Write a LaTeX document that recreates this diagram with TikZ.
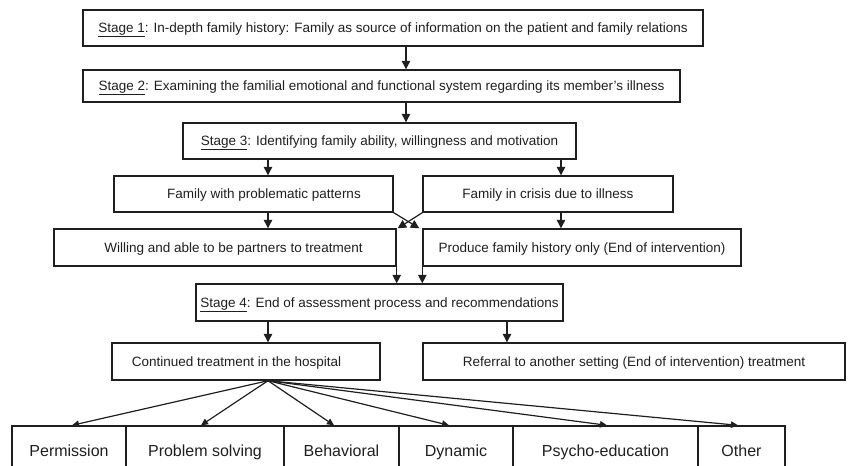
\documentclass[tikz,border=0pt]{standalone}
\usepackage{fontspec}
\setmainfont{Liberation Sans}
\usetikzlibrary{arrows.meta,calc}
\definecolor{ink}{gray}{0.12}
\newcommand\stul[1]{\setbox0\hbox{#1}\rlap{\rule[-4.2pt]{\wd0}{0.9pt}}\box0}
\begin{document}
\begin{tikzpicture}[x=1pt,y=-1pt,
  box/.style={draw=ink, line width=1.4pt, rectangle, inner sep=0pt, text=ink,
    font=\fontsize{13.5}{16}\selectfont, text height=9.7pt, text depth=0pt},
  cell/.style={box, font=\fontsize{16}{19}\selectfont, minimum height=50,
    text height=11.5pt, text depth=0pt},
  arr/.style={draw=ink, line width=1.2pt, -{Triangle[length=8.5pt,width=8.5pt]}},
  farr/.style={draw=ink, line width=1.2pt, -{Triangle[length=7pt,width=6.5pt]}}]
\useasboundingbox (0,0) rectangle (852,466);
\clip (0,0) rectangle (852,466);
% stages and boxes
\node[box, line width=1.6pt, minimum width=620, minimum height=36] (s1) at (393,28)
  {\stul{Stage 1}: In-depth family history: Family as source of information on the patient and family relations};
\node[box, minimum width=597, minimum height=32] (s2) at (381.5,86)
  {\stul{Stage 2}: Examining the familial emotional and functional system regarding its member’s illness};
\node[box, minimum width=393, minimum height=36] (s3) at (379.5,141)
  {\stul{Stage 3}: Identifying family ability, willingness and motivation};
\node[box, minimum width=279, minimum height=36] (fp) at (253.5,194)
  {\hspace*{21pt}Family with problematic patterns};
\node[box, minimum width=250, minimum height=36] (fc) at (548,194)
  {Family in crisis due to illness};
\node[box, minimum width=342, minimum height=37] (wi) at (225,247.5)
  {\hspace*{17pt}Willing and able to be partners to treatment};
\node[box, minimum width=318, minimum height=37] (pr) at (582,247.5)
  {Produce family history only (End of intervention)};
\node[box, minimum width=367, minimum height=37] (s4) at (379.5,302.5)
  {\stul{Stage 4}: End of assessment process and recommendations};
\node[box, minimum width=268, minimum height=37] (ct) at (246,361.5)
  {Continued treatment in the hospital\hspace*{19pt}};
\node[box, minimum width=422, minimum height=37] (rf) at (634,361.5)
  {Referral to another setting (End of intervention) treatment};
% bottom row
\node[cell, minimum width=114] (c1) at (69,451) {Permission};
\node[cell, minimum width=158] (c2) at (205,451) {Problem solving};
\node[cell, minimum width=115] (c3) at (341.5,451) {Behavioral};
\node[cell, minimum width=114] (c4) at (456,451) {Dynamic};
\node[cell, minimum width=185] (c5) at (605.5,451) {Psycho-education};
\node[cell, minimum width=87] (c6) at (741.5,451) {Other};
% guide coordinates
\coordinate (xm) at (406,0);
\coordinate (xl) at (268,0);
\coordinate (xr) at (561,0);
\coordinate (xq) at (507,0);
% connectors
\draw[arr] (s1.south -| xm) -- (s2.north -| xm);
\draw[arr] (s2.south -| xm) -- (s3.north -| xm);
\draw[arr] (s3.south -| xl) -- (fp.north -| xl);
\draw[arr] (s3.south -| xr) -- (fc.north -| xr);
\draw[arr] (fp.south -| xl) -- (wi.north -| xl);
\draw[arr] (fc.south -| xr) -- (pr.north -| xr);
\draw[arr] (fp.south east) -- ($(pr.north west)+(-3,0)$);
\draw[arr] (fc.south west) -- ($(wi.north east)+(1,0)$);
\draw[arr] (wi.south east) -- (wi.south east |- s4.north);
\draw[arr] (pr.south west) -- (pr.south west |- s4.north);
\draw[arr] (s4.south -| xl) -- (ct.north -| xl);
\draw[arr] (s4.south -| xq) -- (rf.north -| xq);
\coordinate (fo) at (ct.south -| xl);
\draw[farr] (fo) -- ($(c1.north)+(3,0)$);
\draw[farr] (fo) -- ($(c2.north)+(-4,0)$);
\draw[farr] (fo) -- ($(c3.north)+(-7.5,0)$);
\draw[farr] (fo) -- ($(c4.north)+(-7,0)$);
\draw[farr] (fo) -- ($(c5.north)+(1.5,0)$);
\draw[farr] (fo) -- ($(c6.north)+(-3.5,0)$);
\end{tikzpicture}
\end{document}
